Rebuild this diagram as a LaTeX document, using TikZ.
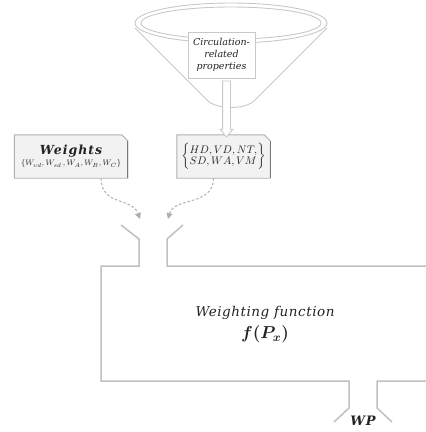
\documentclass[tikz,border=0pt]{standalone}
\usepackage{fontspec}
\setmainfont{DejaVu Serif}
\usepackage{amsmath}
\usetikzlibrary{positioning,shapes.arrows,arrows.meta,calc,backgrounds}

\definecolor{pipegray}{RGB}{192,192,192}
\definecolor{funnelgray}{RGB}{200,200,200}
\definecolor{boxfill}{RGB}{242,242,242}
\definecolor{boxedge}{RGB}{175,175,175}
\definecolor{shadeedge}{RGB}{120,120,120}
\definecolor{dashgray}{RGB}{175,175,175}
\definecolor{ink}{RGB}{35,35,35}

\begin{document}
\begin{tikzpicture}[
    x=1pt, y=-1pt,
    node distance=49pt,
    funnel/.style={draw=funnelgray, line width=0.9pt},
    pipe/.style={draw=pipegray, line width=1.5pt, line join=miter},
    note/.style={rectangle, draw=funnelgray, line width=0.8pt, fill=white, align=center, text=ink, font=\fontsize{9.5}{12}\selectfont\itshape, minimum width=67pt, minimum height=46pt, inner sep=1pt},
    tag/.style={rectangle, minimum height=43pt, align=center, text=ink, inner sep=1pt},
    tagline/.style={draw=boxedge, line width=0.9pt, fill=boxfill},
    flow/.style={-{Triangle[length=6pt,width=6pt]}, dash pattern=on 2.5pt off 2pt, draw=dashgray, line width=1pt},
    hollow/.style={single arrow, draw=funnelgray, line width=0.8pt, fill=white, rotate=-90, minimum height=56pt, inner sep=3.5pt, single arrow head extend=2.5pt, single arrow tip angle=80}
]
\useasboundingbox (0,0) rectangle (426,432);

% Funnel with the property list
\draw[funnel] (231,23) ellipse [x radius=96, y radius=20];
\draw[funnel] (231,23) ellipse [x radius=90, y radius=16];
\draw[funnel] (135,28) -- (207,100) .. controls (216,110) and (246,110) .. (255,100) -- (327,28);
\node[note] (circ) at (221.5,55) {Circulation-\\related\\properties};

% Input boxes
\node[tag, minimum width=93pt] (vals) at (223.5,156.5)
    {\fontsize{10.5}{12}\selectfont\renewcommand\arraystretch{0.92}$\left\{\begin{array}{@{}l@{}}HD,VD,NT,\\ SD,WA,VM\end{array}\right\}$};
\node[tag, minimum width=113pt, left=49pt of vals] (wts)
    {{\fontsize{12.5}{14}\selectfont\bfseries\itshape\addfontfeature{LetterSpace=8}Weights}\\[-1pt]
     {\fontsize{8.5}{10}\selectfont$\{W_{vd},W_{sd}\,,W_A,W_B,W_C\}$}};
\begin{scope}[on background layer]
  \foreach \b in {wts,vals} {
    \draw[tagline] (\b.south west) -- (\b.north west) -- ([xshift=-6pt]\b.north east)
      -- ([yshift=-6pt]\b.north east) -- (\b.south east) -- cycle;
    \draw[shadeedge, line width=0.9pt] (\b.south east) -- ([yshift=-6pt]\b.north east);
  }
\end{scope}

% Hollow arrow from the funnel
\node[hollow] (drop) at ([xshift=4pt]$(circ.south)!0.5!(vals.north)$) {};

% Weighting pipe
\coordinate (inA) at (140,219);
\coordinate (inB) at (168,219);
\draw[pipe] (121,225) -- (139,239) -- (139,266) -- (101,266) -- (101,381) -- (349,381) -- (349,408) -- (334,422);
\draw[pipe] (183,225) -- (167,239) -- (167,266) -- (426,266);
\draw[pipe] (392,422) -- (377,408) -- (377,381) -- (426,381);

\node[text=ink, font=\fontsize{13.5}{16}\selectfont\itshape\addfontfeature{LetterSpace=4}] (wf) at (265,313) {Weighting function};
\node[text=ink, font=\fontsize{17}{19}\selectfont\boldmath, below=-1pt of wf] (fpx) {$f(P_x)$};
\node[text=ink, font=\fontsize{13}{15}\selectfont\bfseries\itshape\addfontfeature{LetterSpace=6}] (wp) at (363,421) {WP};

% Dashed feeds
\draw[flow] ([xshift=30pt]wts.south) .. controls +(0,28) and +(-8,-22) .. (inA);
\draw[flow] ([xshift=-10pt]vals.south) .. controls +(0,28) and +(6,-22) .. (inB);

\end{tikzpicture}
\end{document}
